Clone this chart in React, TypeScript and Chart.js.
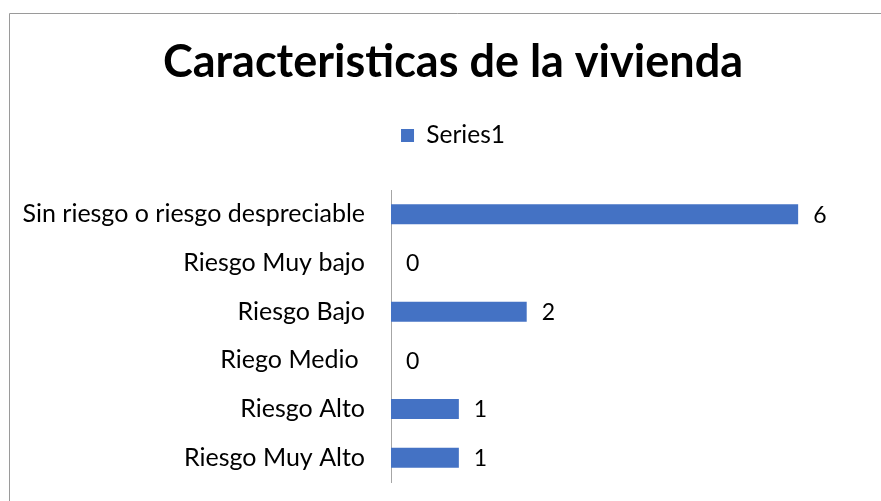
import React, { useEffect, useRef } from "react";
import { Chart, registerables } from "chart.js";

Chart.register(...registerables);

const TITLE = "Caracteristicas de la vivienda";
const SERIES_NAME = "Series1";
const categories = [
  "Sin riesgo o riesgo despreciable",
  "Riesgo Muy bajo",
  "Riesgo Bajo",
  "Riego Medio ",
  "Riesgo Alto",
  "Riesgo Muy Alto",
];
const values = [6, 0, 2, 0, 1, 1];
const X_MIN = 0;
const X_MAX = 7;

const FONT = "Lato, 'Open Sans', sans-serif";

// The original chart frame is wider than the visible 881px crop.
const CANVAS_W = 906;
const CANVAS_H = 501;

const borderPlugin = {
  id: "frameBorder",
  beforeDraw(chart: any) {
    const ctx = chart.ctx;
    ctx.save();
    ctx.strokeStyle = "#9a9a9a";
    ctx.lineWidth = 1;
    ctx.beginPath();
    ctx.moveTo(9.5, chart.height);
    ctx.lineTo(9.5, 13.5);
    ctx.lineTo(chart.width, 13.5);
    ctx.stroke();
    ctx.restore();
  },
};

const dataLabelPlugin = {
  id: "dataLabels",
  afterDatasetsDraw(chart: any) {
    const ctx = chart.ctx;
    ctx.save();
    ctx.fillStyle = "#000";
    ctx.font = `23px ${FONT}`;
    ctx.textAlign = "left";
    ctx.textBaseline = "middle";
    chart.data.datasets.forEach((ds: any, di: number) => {
      const meta = chart.getDatasetMeta(di);
      meta.data.forEach((el: any, i: number) => {
        ctx.fillText(String(ds.data[i]), el.x + 15, el.y + 1);
      });
    });
    ctx.restore();
  },
};

export default function App() {
  const ref = useRef<HTMLCanvasElement>(null);
  useEffect(() => {
    if (!ref.current) return;
    const chart = new Chart(ref.current, {
      type: "bar",
      data: {
        labels: categories,
        datasets: [
          {
            label: SERIES_NAME,
            data: values,
            backgroundColor: "#4472C4",
            barPercentage: 0.82,
            categoryPercentage: 0.5,
          },
        ],
      },
      options: {
        indexAxis: "y",
        responsive: false,
        animation: false,
        layout: { padding: { top: 0, right: 0, bottom: 19, left: 0 } },
        plugins: {
          title: {
            display: true,
            text: TITLE,
            color: "#000",
            font: { family: FONT, size: 45, weight: "bold", lineHeight: 1.2 },
            padding: { top: 35.6, bottom: 25.65 },
          },
          legend: {
            display: true,
            labels: {
              color: "#000",
              font: { family: FONT, size: 24.5 },
              boxWidth: 13,
              boxHeight: 13,
              padding: 8,
            },
          },
          tooltip: { enabled: false },
        },
        scales: {
          x: {
            display: true,
            position: "top",
            min: X_MIN,
            max: X_MAX,
            ticks: { display: false },
            grid: { display: false, drawTicks: false },
            border: { display: false },
            afterFit(scale: any) {
              scale.height = 32.25;
              scale.paddingLeft = 0;
              scale.paddingRight = 40;
            },
          },
          y: {
            grid: { display: false, drawTicks: false },
            border: { display: true, color: "#a6a6a6", width: 1 },
            ticks: {
              color: "#000",
              font: { family: FONT, size: 25 },
              padding: 26,
            },
            afterFit(scale: any) {
              scale.width = 391;
              scale.paddingTop = 0;
              scale.paddingBottom = 0;
            },
          },
        },
      },
      plugins: [borderPlugin, dataLabelPlugin],
    });
    return () => chart.destroy();
  }, []);
  return (
    <div
      style={{
        position: "absolute",
        left: 0,
        top: 0,
        width: 881,
        height: 501,
        overflow: "hidden",
        background: "#fff",
      }}
    >
      <canvas
        ref={ref}
        width={CANVAS_W}
        height={CANVAS_H}
        style={{ width: CANVAS_W, height: CANVAS_H, display: "block" }}
      />
    </div>
  );
}
